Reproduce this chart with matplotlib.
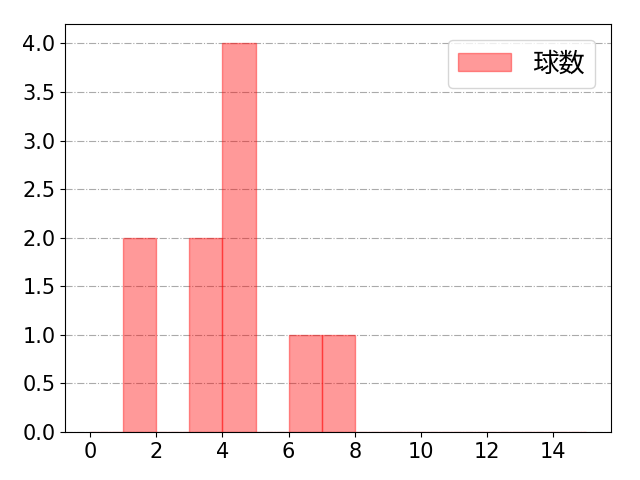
import numpy as np
import matplotlib.pyplot as plt

plt.rcParams['font.family'] = ['DejaVu Sans', 'Noto Sans CJK JP']
plt.rcParams['font.size'] = 15

# histogram bin edges and counts
bin_edges = np.arange(0, 16)
counts = [0, 2, 0, 2, 4, 0, 1, 1, 0, 0, 0, 0, 0, 0, 0]
label = '球数'

fig, ax = plt.subplots(figsize=(6.4, 4.8), dpi=100)
ax.hist(bin_edges[:-1], bins=bin_edges, weights=counts,
        color='red', alpha=0.4, edgecolor='red', label=label)
ax.grid(axis='y', linestyle='-.', color='#aaaaaa')
ax.set_axisbelow(True)
ax.set_xticks(np.arange(0, 16, 2))
ax.legend(loc='upper right', borderaxespad=0.6,
          prop={'family': ['Noto Sans CJK JP'], 'size': 19})
fig.subplots_adjust(left=0.102, right=0.955, top=0.95, bottom=0.1)
fig.savefig('out.png')
